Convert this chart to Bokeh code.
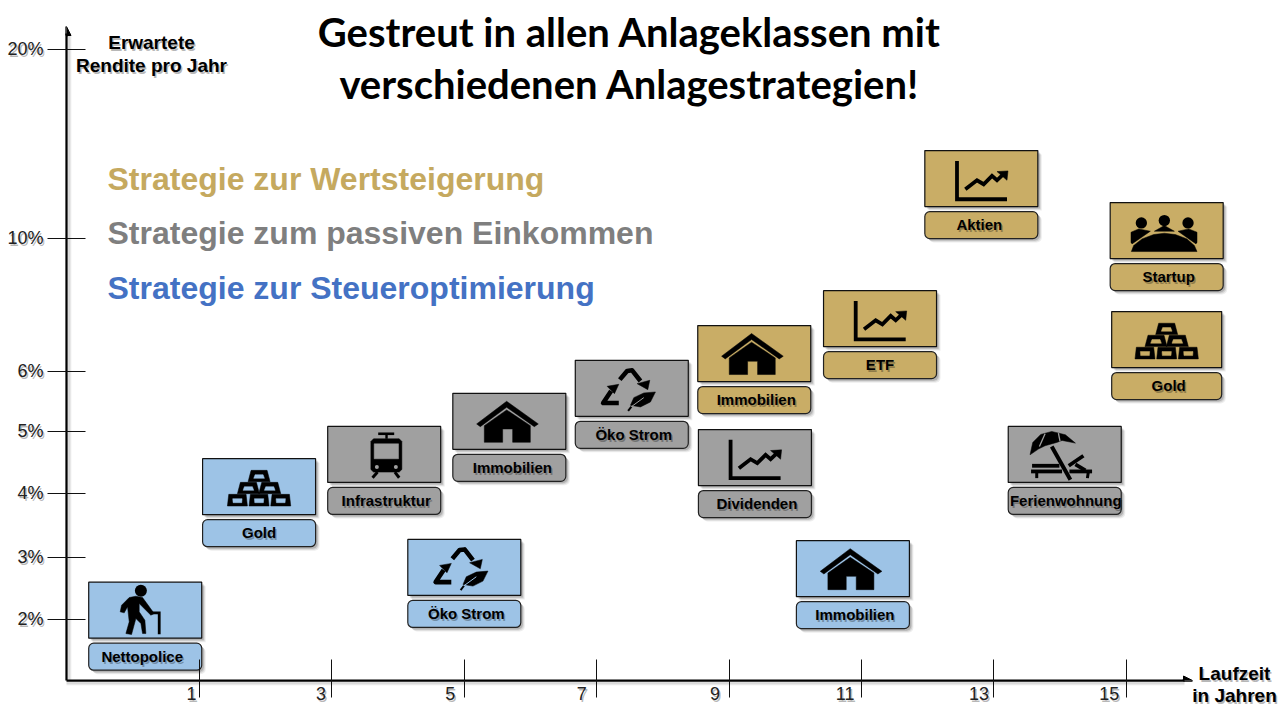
import numpy as np
from bokeh.core.properties import value
from bokeh.embed import file_html
from bokeh.models import Arrow, FixedTicker, NormalHead, Range1d
from bokeh.plotting import figure
from bokeh.resources import INLINE

# ---------- data ----------
x_ticks = [1, 3, 5, 7, 9, 11, 13, 15]
x_tick_labels = ["1", "3", "5", "7", "9", "11", "13", "15"]
y_tick_values = [2, 3, 4, 5, 6, 10, 20]
y_tick_labels = ["2%", "3%", "4%", "5%", "6%", "10%", "20%"]
# the return axis of the slide is drawn piecewise, not to one scale
scale_values = [1, 2, 3, 4, 5, 6, 10, 20, 30]
scale_positions = [0, 61, 123, 187, 249, 309, 442, 631, 820]

names = ["Nettopolice", "Gold", "Infrastruktur", "Immobilien", "Öko Strom", "Öko Strom", "Immobilien",
         "ETF", "Dividenden", "Aktien", "Startup", "Gold", "Ferienwohnung", "Immobilien"]
years = [0.18, 1.90, 3.79, 5.68, 7.53, 5.00, 9.38, 11.28, 9.39, 12.81, 15.61, 15.61, 14.07, 10.87]
returns = [2.15, 4.11, 4.63, 5.17, 5.72, 2.84, 6.54, 7.59, 4.58, 13.17, 10.42, 6.96, 4.63, 2.82]
strategies = ["steuer", "steuer", "passiv", "passiv", "passiv", "steuer", "wert",
              "wert", "passiv", "wert", "wert", "wert", "passiv", "steuer"]
icons = ["walker", "gold", "train", "house", "recycle", "recycle", "house",
         "chart", "chart", "chart", "team", "gold", "beach", "house"]
legend_labels = ["Strategie zur Wertsteigerung", "Strategie zum passiven Einkommen", "Strategie zur Steueroptimierung"]

# ---------- styles ----------
TILE_FILL = {"steuer": "#9DC3E6", "passiv": "#A0A0A0", "wert": "#C9AD66"}
LEGEND_COL = ["#C5A95F", "#7F7F7F", "#4472C4"]
label_nudge = [-3, 0, 2, 3, 2, 2, 2, 0, 2, -2, 2, 2, 1, 2]
x_label_nudge = [-3, -6, -9, -10, -9, -7, -5, -7]
tile_width = [113, 113, 113, 113, 113, 113, 113, 113, 113, 113, 113, 110, 113, 113]
ARIAL = value("Liberation Sans")

# ---------- scales ----------
W, H = 1280, 716
LEFT, BOTTOM = 66, 36
X_PER_PX = 1 / 66.2
x0 = 1 + (66 - 199) * X_PER_PX
x1 = x0 + (W - LEFT) * X_PER_PX


def ypos(v):
    return np.interp(v, scale_values, scale_positions)


def xd(page_x):
    return 1 + (page_x - 199) * X_PER_PX


def yd(page_y):
    return 680 - page_y


p = figure(width=W, height=H, x_range=Range1d(x0, x1), y_range=Range1d(0, H - BOTTOM),
           toolbar_location=None, output_backend="svg",
           min_border_left=LEFT, min_border_bottom=BOTTOM, min_border_top=0, min_border_right=0)
p.grid.visible = False
p.outline_line_color = None

# ---------- axes ----------
xa, ya = p.xaxis[0], p.yaxis[0]
xa.ticker = FixedTicker(ticks=x_ticks)
y_ticks = [float(ypos(v)) for v in y_tick_values]
ya.ticker = FixedTicker(ticks=y_ticks)
xa.major_tick_in, xa.major_tick_out = 21, 17
ya.major_tick_in, ya.major_tick_out = 19, 19
xa.major_label_overrides = {t: "" for t in x_ticks}
ya.major_label_overrides = {t: "" for t in y_ticks}
for a in (xa, ya):
    a.major_label_standoff = 0
    a.major_label_text_font_size = "1px"
    a.minor_tick_line_color = None
    a.major_tick_line_color = "#111111"
    a.major_tick_line_width = 1
    a.axis_line_width = 2.25
    a.axis_line_color = "#000000"
xa.bounds = (x0, xd(1184))
ya.bounds = (0, yd(33))

# soft shadows of the axis lines
for k, alpha in ((2, .10), (3, .08), (4, .05)):
    p.line([x0, xd(1184)], [yd(680 + k)] * 2, line_color="black", line_alpha=alpha, line_width=2, level="annotation")
    p.line([xd(66 + k)] * 2, [yd(680), yd(33)], line_color="black", line_alpha=alpha, line_width=2, level="annotation")

p.add_layout(Arrow(end=NormalHead(size=9, fill_color="black", line_color="black"), line_width=2.25,
                   x_start=xd(1182), y_start=yd(680), x_end=xd(1192), y_end=yd(680)))
p.add_layout(Arrow(end=NormalHead(size=9, fill_color="black", line_color="black"), line_width=2.25,
                   x_start=xd(66), y_start=yd(36), x_end=xd(66), y_end=yd(26)))


def put_text(page_x, page_y, txt, size, color="black", align="left", bold=True, font=ARIAL, shadow=False):
    # the svg backend places this baseline about 0.4 em too low
    page_y = page_y - 0.4 * size
    style = dict(text_font=font, text_font_size=f"{size}px", text_align=align, text_baseline="alphabetic",
                 text_font_style="bold" if bold else "normal", level="annotation")
    if shadow:
        p.text([xd(page_x + 1.5)], [yd(page_y + 2)], text=[txt], text_color="black", text_alpha=0.28, **style)
    p.text([xd(page_x)], [yd(page_y)], text=[txt], text_color=color, **style)


for tick, lab, nudge in zip(x_ticks, x_tick_labels, x_label_nudge):
    put_text(199 + (tick - 1) * 66.2 + nudge, 700.5, lab, 18, "#222222", "right", False, shadow=True)
for v, lab in zip(y_tick_values, y_tick_labels):
    put_text(43, 680 - float(ypos(v)) + 7, lab, 18, "#222222", "right", False, shadow=True)

# ---------- headings ----------
LATO = value("Lato")
put_text(629, 47, "Gestreut in allen Anlageklassen mit", 40, align="center", font=LATO)
put_text(629, 99, "verschiedenen Anlagestrategien!", 40, align="center", font=LATO)
put_text(151, 50, "Erwartete", 19, align="center", shadow=True)
put_text(151, 73, "Rendite pro Jahr", 19, align="center", shadow=True)
put_text(1234, 681, "Laufzeit", 19, align="center", shadow=True)
put_text(1234, 703, "in Jahren", 19, align="center", shadow=True)
for lab, col, base in zip(legend_labels, LEGEND_COL, (191, 245.5, 300)):
    put_text(107, base, lab, 32, col)


# ---------- icons: drawn in 3x pixels around the middle of the tile ----------
def bar(cx, top, bot, ht=24, hb=33):
    return [
        ("poly", [(cx - ht, top), (cx + ht, top), (cx + hb, bot), (cx - hb, bot)], "ink"),
        ("poly", [(cx - ht + 12, top + 13), (cx + ht - 12, top + 13), (cx + hb - 17, bot - 10), (cx - hb + 17, bot - 10)], "tile"),
    ]


ICON = {
    "walker": [
        ("disc", -13, -58, 18, "ink"),
        ("poly", [(-28, -42), (-48, -38), (-71, -15), (-75, 5), (-63, 8), (-53, -10), (-48, 35), (-58, 70), (-41, 73),
                  (-28, 25), (-13, 40), (-8, 70), (2, 70), (-1, 30), (-18, 5), (-18, -20), (17, 15), (27, 10), (-8, -38)], "ink"),
        ("line", [(20, 8), (42, 8), (42, 72)], 2.8, "ink"),
    ],
    "gold": bar(0, -49, -15) + bar(-32, -13, 21) + bar(32, -13, 21)
            + bar(-65, 23, 58, 26, 30) + bar(0, 23, 58, 26, 30) + bar(65, 23, 58, 26, 30),
    "house": [
        ("poly", [(-8, -60), (87, 8), (75, 16), (-8, -42), (-87, 16), (-98, 8)], "ink"),
        ("poly", [(-75, 63), (-75, 13), (-8, -34), (63, 13), (63, 63), (10, 63), (10, 23), (-20, 23), (-20, 63)], "ink"),
    ],
    "recycle": [
        ("line", [(-36, -26), (-14, -52), (1, -54), (26, -22)], 4.6, "ink", "round"),
        ("poly", [(16, -14), (54, -24), (48, 4)], "ink"),
        ("line", [(-62, 8), (-86, 44), (-39, 44)], 4.6, "ink", "round"),
        ("poly", [(-74, -6), (-39, -12), (-52, 16)], "ink"),
        ("poly", [(71, 11), (36, 14), (6, 28), (-4, 51), (26, 56), (56, 41)], "ink"),
        ("line", [(-11, 68), (-1, 55)], 2, "ink"),
        ("line", [(-1, 55), (36, 28)], 1, "tile"),
    ],
    "chart": [
        ("line", [(-73, -53), (-73, 62), (77, 62)], 3.8, "ink"),
        ("line", [(-48, 32), (-13, 5), (7, 17), (32, -8), (47, 5), (68, -15)], 3.8, "ink"),
        ("poly", [(47, -21), (80, -23), (77, 5)], "ink"),
    ],
    "train": [
        ("line", [(-18, -62), (30, -62)], 2.6, "ink"),
        ("line", [(7, -62), (7, -47)], 2.4, "ink"),
        ("poly", [(-32, -47), (45, -47), (53, -39), (53, 45), (45, 53), (-32, 53), (-40, 45), (-40, -39)], "ink"),
        ("poly", [(-30, -32), (43, -32), (43, 13), (-30, 13)], "tile"),
        ("disc", -22, 38, 6, "tile"),
        ("disc", 35, 38, 6, "tile"),
        ("line", [(-20, 53), (-35, 70)], 3, "ink"),
        ("line", [(32, 53), (45, 70)], 3, "ink"),
    ],
    "team": [
        ("disc", -76, -23, 17, "ink"),
        ("disc", -7, -30, 17, "ink"),
        ("disc", 64, -23, 17, "ink"),
        ("poly", [(-107, 35), (-107, 5), (-84, -5), (-49, 2), (-104, 40)], "ink"),
        ("poly", [(-37, 2), (-7, -15), (23, 2)], "ink"),
        ("poly", [(91, 35), (91, 5), (66, -5), (34, 2), (88, 40)], "ink"),
        ("poly", [(-106, 63), (-99, 45), (-74, 25), (-39, 12), (-7, 8), (26, 12), (61, 25), (83, 45), (91, 63)], "ink"),
    ],
    "beach": [
        ("poly", [(-104, 1), (-96, -36), (-72, -60), (-39, -69), (2, -59), (32, -34), (-8, -42), (-24, -36), (-59, -26), (-79, -16)], "ink"),
        ("line", [(-59, -62), (-76, -24)], 1.3, "tile"),
        ("line", [(-19, -64), (-14, -39)], 1.3, "tile"),
        ("line", [(-39, -24), (17, 76)], 4, "ink"),
        ("line", [(-98, 34), (-16, 34)], 3.8, "ink"),
        ("line", [(-101, 51), (-8, 51)], 3.8, "ink"),
        ("line", [(14, 51), (82, 51)], 3.8, "ink"),
        ("line", [(12, 34), (56, 4)], 3.8, "ink"),
        ("line", [(32, 30), (62, 48)], 3.8, "ink"),
        ("line", [(-84, 51), (-84, 71)], 3, "ink"),
        ("line", [(71, 51), (68, 71)], 3, "ink"),
    ],
}


def local(pts, cx, cy):
    return [cx + q[0] / 3 * X_PER_PX for q in pts], [cy - q[1] / 3 for q in pts]


def draw_icon(kind, cx, cy, fill):
    for op in ICON[kind]:
        if op[0] == "poly":
            col = "black" if op[2] == "ink" else fill
            xs, ys = local(op[1], cx, cy)
            p.patch(xs, ys, fill_color=col, line_color=col, line_width=0.5)
        elif op[0] == "line":
            col = "black" if op[3] == "ink" else fill
            xs, ys = local(op[1], cx, cy)
            join = op[4] if len(op) > 4 else "miter"
            p.line(xs, ys, line_color=col, line_width=op[2], line_join=join)
        else:
            col = "black" if op[4] == "ink" else fill
            xs, ys = local([(op[1], op[2])], cx, cy)
            p.scatter(xs, ys, marker="circle", size=op[3] * 2 / 3, fill_color=col, line_color=None)


# ---------- tiles ----------
for name, yr, ret, strat, icon, nudge, tw in zip(names, years, returns, strategies, icons, label_nudge, tile_width):
    cy = float(ypos(ret))
    half = tw / 2 * X_PER_PX
    fill = TILE_FILL[strat]
    # shadows
    for k, alpha in ((4, .07), (3, .10), (2, .16)):
        dx = k * X_PER_PX
        p.quad(left=[yr - half + dx], right=[yr + half + dx], top=[cy + 28 - k], bottom=[cy - 28 - k],
               fill_color="black", fill_alpha=alpha, line_color=None)
        p.quad(left=[yr - half + dx], right=[yr + half + dx], top=[cy - 33 - k], bottom=[cy - 60 - k],
               fill_color="black", fill_alpha=alpha, line_color=None, border_radius=5)
    p.quad(left=[yr - half], right=[yr + half], top=[cy + 28], bottom=[cy - 28],
           fill_color=fill, line_color="#111111", line_width=1.2)
    p.quad(left=[yr - half], right=[yr + half], top=[cy - 33], bottom=[cy - 60],
           fill_color=fill, line_color="#222222", line_width=1.2, border_radius=5)
    draw_icon(icon, yr, cy, fill)
    page_x = 199 + (yr - 1) * 66.2 + nudge
    put_text(page_x, 680 - cy + 52, name, 15, align="center", shadow=True)

open("out.html", "w").write(file_html(p, INLINE))
